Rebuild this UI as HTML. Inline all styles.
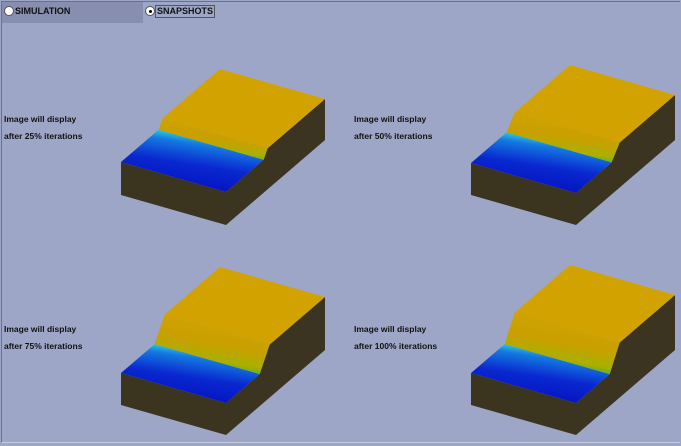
<!DOCTYPE html>
<html><head><meta charset="utf-8"><style>
html,body{margin:0;padding:0;}
body{width:681px;height:446px;background:#9ea6c7;position:relative;overflow:hidden;font-family:"Liberation Sans",Arial,sans-serif;}
.frame{position:absolute;left:1px;top:1px;width:679px;height:442px;border-left:1px solid #6a7090;border-top:1px solid #6a7090;border-bottom:1px solid #c8cce0;box-sizing:border-box;}
.panel{position:absolute;left:2px;top:2px;width:141px;height:21px;background:#878eaf;}
.rb{position:absolute;top:6px;width:10px;height:10px;border-radius:50%;background:#fff;border:1px solid #555;box-sizing:border-box;}
.lab{position:absolute;font-size:9px;font-weight:bold;color:#111;}
.t{position:absolute;font-size:8.5px;font-weight:bold;color:#111;white-space:nowrap;}
svg{position:absolute;left:0;top:0;}
</style></head><body>
<div class="frame"></div>
<div class="panel"></div>
<div class="rb" style="left:4px"></div>
<div class="lab" style="left:15px;top:6px">SIMULATION</div>
<div class="rb" style="left:145px"><div style="position:absolute;left:3px;top:3px;width:3px;height:3px;border-radius:50%;background:#000"></div></div>
<div class="lab" style="left:155px;top:5px;border:1px solid #555;padding:0 1px;line-height:11px">SNAPSHOTS</div>

<div class="t" style="left:4px;top:114px">Image will display</div>
<div class="t" style="left:4px;top:131px">after 25% iterations</div>
<div class="t" style="left:354px;top:114px">Image will display</div>
<div class="t" style="left:354px;top:131px">after 50% iterations</div>
<div class="t" style="left:4px;top:324px">Image will display</div>
<div class="t" style="left:4px;top:341px">after 75% iterations</div>
<div class="t" style="left:354px;top:324px">Image will display</div>
<div class="t" style="left:354px;top:341px">after 100% iterations</div>

<svg id="s" width="681" height="446" xmlns="http://www.w3.org/2000/svg">
<defs>
<linearGradient id="bl" x1="0" y1="1" x2="0.35" y2="0">
<stop offset="0" stop-color="#0008b8"/><stop offset="0.55" stop-color="#0a28d0"/><stop offset="0.85" stop-color="#1478e0"/><stop offset="1" stop-color="#30d8e0"/></linearGradient>
<linearGradient id="st" x1="0" y1="1" x2="0.3" y2="0">
<stop offset="0" stop-color="#40e0c0"/><stop offset="0.15" stop-color="#30b030"/><stop offset="0.35" stop-color="#a8b000"/><stop offset="0.6" stop-color="#c8a000"/><stop offset="1" stop-color="#d0a200"/></linearGradient>
</defs>
</svg>
<script>
var s=document.getElementById('s');
function P(pts,fill){var p=document.createElementNS('http://www.w3.org/2000/svg','polygon');p.setAttribute('points',pts.map(function(a){return a[0].toFixed(1)+','+a[1].toFixed(1)}).join(' '));p.setAttribute('fill',fill);s.appendChild(p);}
function blk(dx,dy,H1,H2,t,w){
var LB=[121+dx,195+dy],FB=[226+dx,225+dy],RB=[325+dx,140+dy],BB=[220+dx,110+dy];
function up(p,h){return [p[0],p[1]-h];}
function lerp(a,b,f){return [a[0]+(b[0]-a[0])*f,a[1]+(b[1]-a[1])*f];}
var S=lerp(FB,RB,t),SL=lerp(LB,BB,t),S2=lerp(FB,RB,t+w),SL2=lerp(LB,BB,t+w);
P([LB,FB,up(FB,H2),up(LB,H2)],'#3b3520');
P([FB,RB,up(RB,H1),up(S2,H1),up(S,H2),up(FB,H2)],'#3a3420');
P([up(LB,H2),up(FB,H2),up(S,H2),up(SL,H2)],'url(#bl)');
P([up(SL,H2),up(S,H2),up(S2,H1),up(SL2,H1)],'url(#st)');
P([up(SL2,H1),up(S2,H1),up(RB,H1),up(BB,H1)],'#d2a200');
}
blk(0,0,41,33,0.38,0.04);
blk(350,0,45,32,0.36,0.08);
blk(0,210,53,32,0.34,0.1);
blk(350,210,55,32,0.34,0.1);
</script>
</body></html>
